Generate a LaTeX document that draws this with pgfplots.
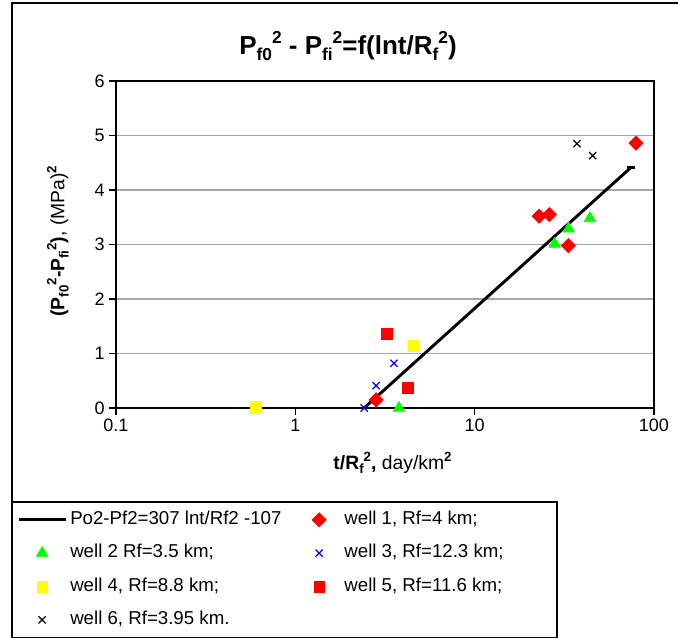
\documentclass[border=0pt]{standalone}
\usepackage{pgfplots}
\pgfplotsset{compat=1.18}
\usepackage{fontspec}
\setmainfont{Liberation Sans}
\definecolor{mred}{RGB}{255,0,0}
\definecolor{mgreen}{RGB}{0,255,0}
\definecolor{mblue}{RGB}{0,0,255}
\definecolor{myellow}{RGB}{255,255,0}
\newcommand{\SU}[2]{\raisebox{0.42em}{\fontsize{#1}{#1}\selectfont #2}}
\newcommand{\SB}[2]{\raisebox{-0.22em}{\fontsize{#1}{#1}\selectfont #2}}
\pgfplotsset{
  limg/.style={legend image code/.code={\draw[##1,mark=none] (0pt,0pt) -- (35pt,0pt); \draw[##1,only marks] plot coordinates {(17pt,0pt)};}},
  cimg/.style={legend image code/.code={\path (0pt,0pt) (35pt,0pt); \draw[##1] plot coordinates {(17pt,0pt)};}},
  dimg/.style={legend image code/.code={\path (0pt,0pt) (24.7pt,0pt); \draw[##1] plot coordinates {(8pt,0pt)};}},
}
\begin{document}
\begin{tikzpicture}[x=1pt,y=1pt]
\useasboundingbox (0,0) rectangle (508.5,478.5);
\draw[line width=1.1pt] (9,0) -- (9,476.25) -- (508.5,476.25);
\draw[line width=0.8pt] (9,0.4) rectangle (417.75,102);
\node at (261,444) {\fontsize{19.5}{21}\selectfont\bfseries P\SB{13pt}{f0}\SU{13pt}{2} - P\SB{13pt}{fi}\SU{13pt}{2}=f(lnt/R\SB{13pt}{f}\SU{13pt}{2})};
\begin{axis}[
  at={(87pt,172.5pt)}, anchor=south west,
  scale only axis, width=403.5pt, height=245.25pt,
  xmode=log, xmin=0.1, xmax=100, ymin=0, ymax=6,
  xtick={0.1,1,10,100}, xticklabels={0.1,1,10,100},
  xminorticks=false,
  ytick={0,1,2,3,4,5,6},
  xtick pos=bottom, ytick pos=left,
  ymajorgrids, grid style={gray!70, line width=0.8pt},
  tick align=outside, major tick length=5pt,
  tick style={black, line width=0.8pt},
  axis line style={line width=1pt},
  ticklabel style={font=\fontsize{13.5}{15}\selectfont},
  /pgf/number format/assume math mode=true,
  xlabel={\textbf{t/R\SB{10pt}{f}\SU{10pt}{2},} day/km\SU{10pt}{\textbf{2}}},
  ylabel={\textbf{(P\SB{10pt}{f0}\SU{10pt}{2}-P\SB{10pt}{fi}\SU{10pt}{2})}, (MPa)\SU{10pt}{\textbf{2}}},
  label style={font=\fontsize{14.5}{16}\selectfont},
  xlabel style={at={(axis description cs:0.514,-0.168)}, anchor=center},
  ylabel style={at={(axis description cs:-0.108,0.51)}, anchor=center},
  clip=false,
  legend columns=2,
  legend cell align=left,
  legend style={at={(-0.18216,-0.3073)}, anchor=north west, draw=none, fill=none,
    inner sep=0pt, outer sep=0pt, row sep=8pt,
    font=\fontsize{14}{16}\selectfont,
    nodes={text height=10pt, text depth=3pt}},
]
\addplot[black, line width=2.2pt, mark=-, mark size=3pt, mark options={line width=2.2pt}, limg]
  coordinates {(2.42,0) (74.8,4.42)};
\addlegendentry{\makebox[176.5pt][l]{Po2-Pf2=307 lnt/Rf2 -107}}
\addplot[only marks, mark=square*, mark size=3.8pt, mark options={rotate=45}, color=mred, dimg]
  coordinates {(2.82,0.15) (22.9,3.52) (26.1,3.55) (33.3,2.98) (79.4,4.86)};
\addlegendentry{well 1, Rf=4 km;}
\addplot[only marks, mark=triangle*, mark size=5pt, color=mgreen, cimg]
  coordinates {(3.78,0.0) (27.9,3.01) (33.4,3.29) (43.9,3.48)};
\addlegendentry{well 2 Rf=3.5 km;}
\addplot[only marks, mark=x, mark size=3.8pt, color=mblue, mark options={line width=0.9pt}, dimg]
  coordinates {(2.42,0) (2.82,0.41) (3.55,0.82)};
\addlegendentry{well 3, Rf=12.3 km;}
\addplot[only marks, mark=square*, mark size=4pt, color=myellow, cimg]
  coordinates {(0.60,0.02) (4.54,1.14)};
\addlegendentry{well 4, Rf=8.8 km;}
\addplot[only marks, mark=square*, mark size=4pt, color=mred, dimg]
  coordinates {(3.24,1.36) (4.24,0.37)};
\addlegendentry{well 5, Rf=11.6 km;}
\addplot[only marks, mark=x, mark size=3.8pt, color=black, mark options={line width=0.9pt}, cimg]
  coordinates {(37.2,4.85) (45.5,4.63)};
\addlegendentry{well 6, Rf=3.95 km.}
\end{axis}
\end{tikzpicture}
\end{document}
